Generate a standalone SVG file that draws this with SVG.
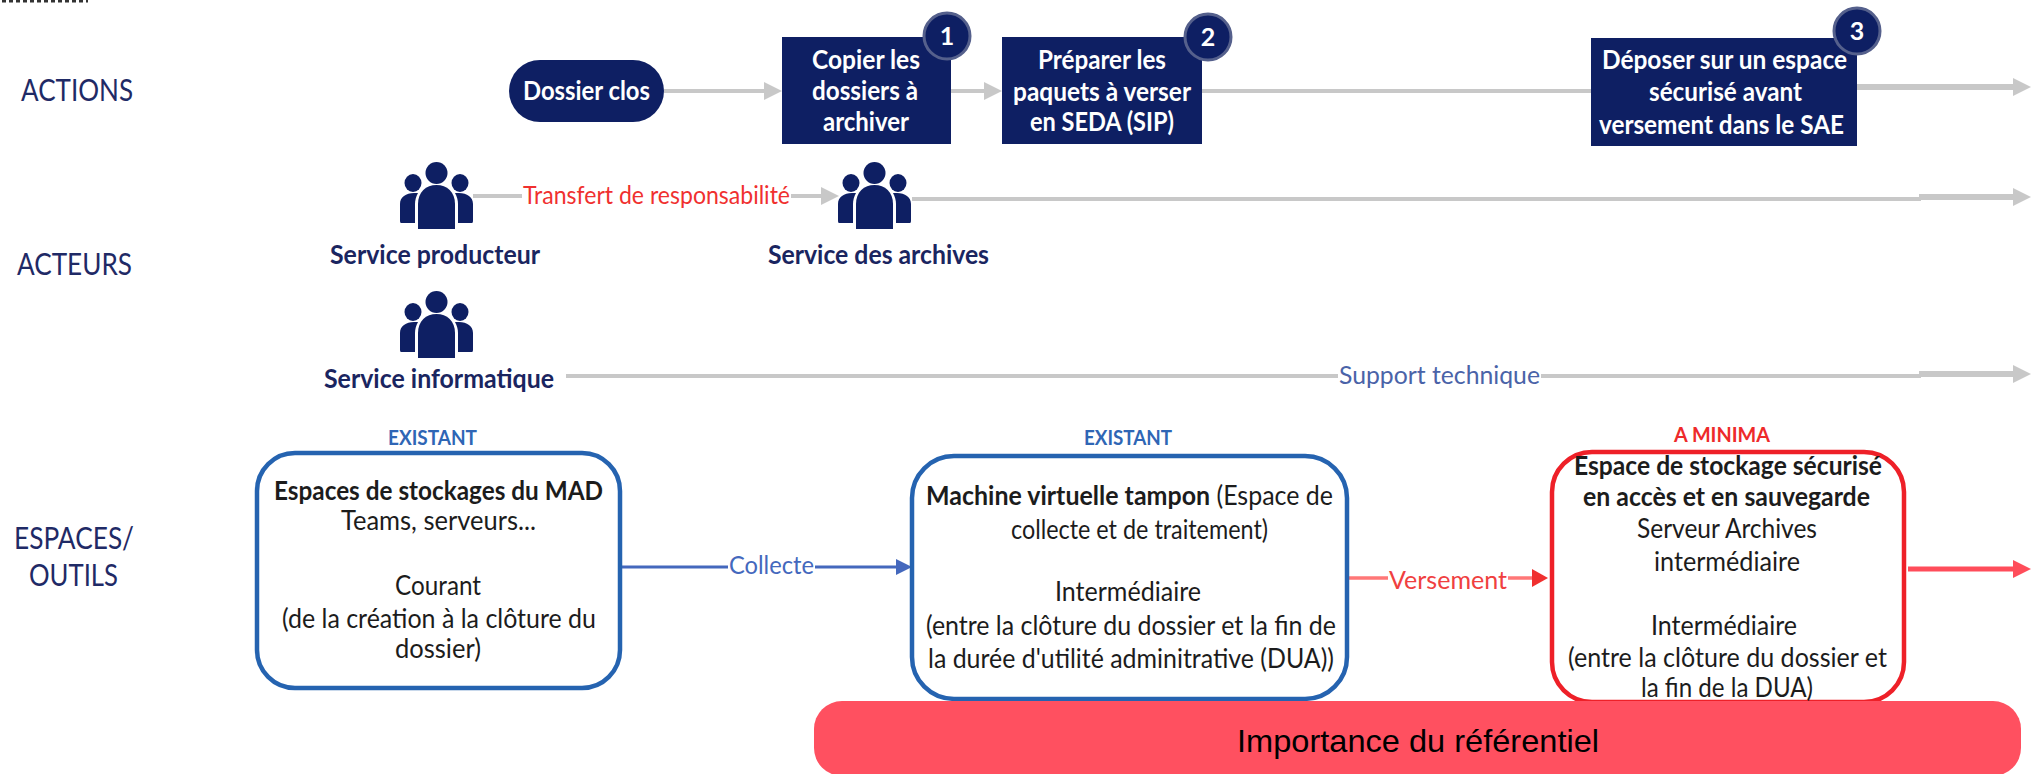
<svg xmlns="http://www.w3.org/2000/svg" width="2043" height="774" viewBox="0 0 2043 774">
<style>
text{font-family:Lato,"Open Sans","Liberation Sans",sans-serif;dominant-baseline:central;font-size:26px;fill:#1c1c1c;transform:translateY(-2px)}
.navy{fill:#0e1f63}
.w{fill:#fff;font-weight:700;font-size:26px}
.b{font-weight:700}
.row{fill:#1f2a66;font-size:30px}
.lab{fill:#1a2560;font-weight:700;font-size:26px}
.tag{font-weight:700;font-size:20px}
.blue{fill:#2f66b5}
.red{fill:#ee2a2a}
.g{fill:none;stroke:#c8c8c8;stroke-width:4}
.gt{fill:none;stroke:#c8c8c8;stroke-width:6}
.space{fill:#fff;stroke-width:4.5}
.badge{fill:#0e1f63;stroke:#55608c;stroke-width:3}
.num{fill:#fff;font-weight:700;font-size:25px;text-anchor:middle}
.cl{font-size:25px}
</style>
<defs>
<marker id="hg" markerUnits="userSpaceOnUse" markerWidth="18" markerHeight="20" refX="0" refY="10" orient="auto"><path d="M0 1L18 10L0 19Z" fill="#c8c8c8"/></marker>
<marker id="hb" markerUnits="userSpaceOnUse" markerWidth="16" markerHeight="18" refX="0" refY="9" orient="auto"><path d="M0 1L16 9L0 17Z" fill="#4468bd"/></marker>
<marker id="hr" markerUnits="userSpaceOnUse" markerWidth="16" markerHeight="20" refX="0" refY="10" orient="auto"><path d="M0 1L16 10L0 19Z" fill="#f0302f"/></marker>
<marker id="hp" markerUnits="userSpaceOnUse" markerWidth="18" markerHeight="20" refX="0" refY="10" orient="auto"><path d="M0 1L18 10L0 19Z" fill="#ff4d5a"/></marker>
<symbol id="people" width="73" height="68" viewBox="0 0 73 68" overflow="visible">
<g class="navy">
<circle cx="36.5" cy="11" r="11"/>
<path d="M18 67V42C18 30 26 23 36.5 23S55 30 55 42V67Z"/>
<ellipse cx="13" cy="21" rx="8.5" ry="9"/>
<path d="M1 61Q0 61 0 59V42C0 35 6 31 14 31H18C16 35 15 38 15 42V61Z"/>
<ellipse cx="60" cy="21" rx="8.5" ry="9"/>
<path d="M72 61Q73 61 73 59V42C73 35 67 31 59 31H55C57 35 58 38 58 42V61Z"/>
</g>
</symbol>
</defs>
<rect width="2043" height="774" fill="#fff"/>
<path d="M2 1.2H88" stroke="#333" stroke-width="2.4" stroke-dasharray="4 3"/>

<g id="row-labels">
<text class="row" x="21" y="91" textLength="112" lengthAdjust="spacingAndGlyphs">ACTIONS</text>
<text class="row" x="17" y="265" textLength="115" lengthAdjust="spacingAndGlyphs">ACTEURS</text>
<text class="row" x="14" y="539" textLength="120" lengthAdjust="spacingAndGlyphs">ESPACES/</text>
<text class="row" x="29" y="576" textLength="89" lengthAdjust="spacingAndGlyphs">OUTILS</text>
</g>

<g id="connectors">
<path class="g" d="M664 91H764" marker-end="url(#hg)"/>
<path class="g" d="M951 91H984" marker-end="url(#hg)"/>
<path class="g" d="M1202 91H1592"/>
<path class="gt" d="M1855 87H2013" marker-end="url(#hg)"/>
<path class="g" d="M473 196H821" marker-end="url(#hg)"/>
<path class="g" d="M912 199H1921"/>
<path class="gt" d="M1919 197H2013" marker-end="url(#hg)"/>
<path class="g" d="M566 376H1921"/>
<path class="gt" d="M1919 374H2013" marker-end="url(#hg)"/>
<path d="M622 567H896" fill="none" stroke="#4468bd" stroke-width="3" marker-end="url(#hb)"/>
<path d="M1349 578H1532" fill="none" stroke="#f77" stroke-width="3.5" marker-end="url(#hr)"/>
<path d="M1908 569H2013" fill="none" stroke="#ff4d5a" stroke-width="5" marker-end="url(#hp)"/>
</g>

<g id="connector-labels">
<rect x="522" y="184" width="269" height="24" fill="#fff"/>
<text class="cl" x="523" y="196" textLength="267" lengthAdjust="spacingAndGlyphs" style="fill:#f0302f">Transfert de responsabilité</text>
<rect x="1338" y="364" width="203" height="24" fill="#fff"/>
<text class="cl" x="1339" y="376" textLength="201" lengthAdjust="spacingAndGlyphs" style="fill:#4a63a8">Support technique</text>
<rect x="728" y="555" width="87" height="24" fill="#fff"/>
<text class="cl" x="729" y="566" textLength="85" lengthAdjust="spacingAndGlyphs" style="fill:#4468bd">Collecte</text>
<rect x="1388" y="566" width="120" height="24" fill="#fff"/>
<text class="cl" x="1389" y="581" textLength="118" lengthAdjust="spacingAndGlyphs" style="fill:#f0403f">Versement</text>
</g>

<g id="dossier-clos">
<rect class="navy" x="509" y="60" width="155" height="62" rx="31"/>
<text class="w" x="523" y="92" textLength="127" lengthAdjust="spacingAndGlyphs">Dossier clos</text>
</g>
<g id="action-1">
<rect class="navy" x="782" y="37" width="169" height="107"/>
<text class="w" x="812" y="61" textLength="108" lengthAdjust="spacingAndGlyphs">Copier les</text>
<text class="w" x="812" y="92" textLength="106" lengthAdjust="spacingAndGlyphs">dossiers à</text>
<text class="w" x="823" y="123" textLength="86" lengthAdjust="spacingAndGlyphs">archiver</text>
<circle class="badge" cx="947" cy="36" r="23"/>
<text class="num" x="947" y="37">1</text>
</g>
<g id="action-2">
<rect class="navy" x="1002" y="37" width="200" height="107"/>
<text class="w" x="1038" y="61" textLength="128" lengthAdjust="spacingAndGlyphs">Préparer les</text>
<text class="w" x="1013" y="93" textLength="178" lengthAdjust="spacingAndGlyphs">paquets à verser</text>
<text class="w" x="1030" y="123" textLength="144" lengthAdjust="spacingAndGlyphs">en SEDA (SIP)</text>
<circle class="badge" cx="1208" cy="37" r="23"/>
<text class="num" x="1208" y="38">2</text>
</g>
<g id="action-3">
<rect class="navy" x="1591" y="38" width="266" height="108"/>
<text class="w" x="1602" y="61" textLength="245" lengthAdjust="spacingAndGlyphs">Déposer sur un espace</text>
<text class="w" x="1649" y="93" textLength="153" lengthAdjust="spacingAndGlyphs">sécurisé avant</text>
<text class="w" x="1599" y="126" textLength="245" lengthAdjust="spacingAndGlyphs">versement dans le SAE</text>
<circle class="badge" cx="1857" cy="31" r="23"/>
<text class="num" x="1857" y="32">3</text>
</g>

<g id="service-producteur">
<use href="#people" x="400" y="162"/>
<text class="lab" x="330" y="256" textLength="210" lengthAdjust="spacingAndGlyphs">Service producteur</text>
</g>
<g id="service-archives">
<use href="#people" x="838" y="162"/>
<text class="lab" x="768" y="256" textLength="221" lengthAdjust="spacingAndGlyphs">Service des archives</text>
</g>
<g id="service-informatique">
<use href="#people" x="400" y="291"/>
<text class="lab" x="324" y="380" textLength="230" lengthAdjust="spacingAndGlyphs">Service informatique</text>
</g>

<g id="espace-mad">
<text class="tag blue" x="388" y="439" textLength="89" lengthAdjust="spacingAndGlyphs">EXISTANT</text>
<rect class="space" x="257" y="453" width="363" height="235" rx="38" stroke="#2563b0"/>
<text class="b" x="274" y="492" textLength="329" lengthAdjust="spacingAndGlyphs">Espaces de stockages du MAD</text>
<text x="341" y="522" textLength="195" lengthAdjust="spacingAndGlyphs">Teams, serveurs...</text>
<text x="395" y="587" textLength="86" lengthAdjust="spacingAndGlyphs">Courant</text>
<text x="282" y="620" textLength="314" lengthAdjust="spacingAndGlyphs">(de la création à la clôture du</text>
<text x="395" y="650" textLength="86" lengthAdjust="spacingAndGlyphs">dossier)</text>
</g>
<g id="machine-virtuelle">
<text class="tag blue" x="1084" y="439" textLength="88" lengthAdjust="spacingAndGlyphs">EXISTANT</text>
<rect class="space" x="912" y="456" width="435" height="243" rx="42" stroke="#2563b0"/>
<text x="926" y="497" textLength="407" lengthAdjust="spacingAndGlyphs"><tspan class="b">Machine virtuelle tampon</tspan> (Espace de</text>
<text x="1011" y="531" textLength="257" lengthAdjust="spacingAndGlyphs">collecte et de traitement)</text>
<text x="1055" y="593" textLength="146" lengthAdjust="spacingAndGlyphs">Intermédiaire</text>
<text x="926" y="627" textLength="410" lengthAdjust="spacingAndGlyphs">(entre la clôture du dossier et la fin de</text>
<text x="928" y="660" textLength="406" lengthAdjust="spacingAndGlyphs">la durée d'utilité adminitrative (DUA))</text>
</g>
<g id="espace-securise">
<text class="tag red" x="1674" y="436" textLength="96" lengthAdjust="spacingAndGlyphs">A MINIMA</text>
<rect class="space" x="1552" y="452" width="352" height="250" rx="40" stroke="#ee2028"/>
<text class="b" x="1574" y="467" textLength="308" lengthAdjust="spacingAndGlyphs">Espace de stockage sécurisé</text>
<text class="b" x="1583" y="498" textLength="287" lengthAdjust="spacingAndGlyphs">en accès et en sauvegarde</text>
<text x="1637" y="530" textLength="180" lengthAdjust="spacingAndGlyphs">Serveur Archives</text>
<text x="1654" y="563" textLength="146" lengthAdjust="spacingAndGlyphs">intermédiaire</text>
<text x="1651" y="627" textLength="146" lengthAdjust="spacingAndGlyphs">Intermédiaire</text>
<text x="1568" y="659" textLength="319" lengthAdjust="spacingAndGlyphs">(entre la clôture du dossier et</text>
<text x="1641" y="689" textLength="172" lengthAdjust="spacingAndGlyphs">la fin de la DUA)</text>
</g>

<g id="importance">
<rect x="814" y="701" width="1207" height="75" rx="28" fill="#ff5060"/>
<text x="1237" y="743" textLength="362" lengthAdjust="spacingAndGlyphs" style="font-family:'Liberation Sans',Arial,sans-serif;font-size:32px;fill:#000">Importance du référentiel</text>
</g>
</svg>
